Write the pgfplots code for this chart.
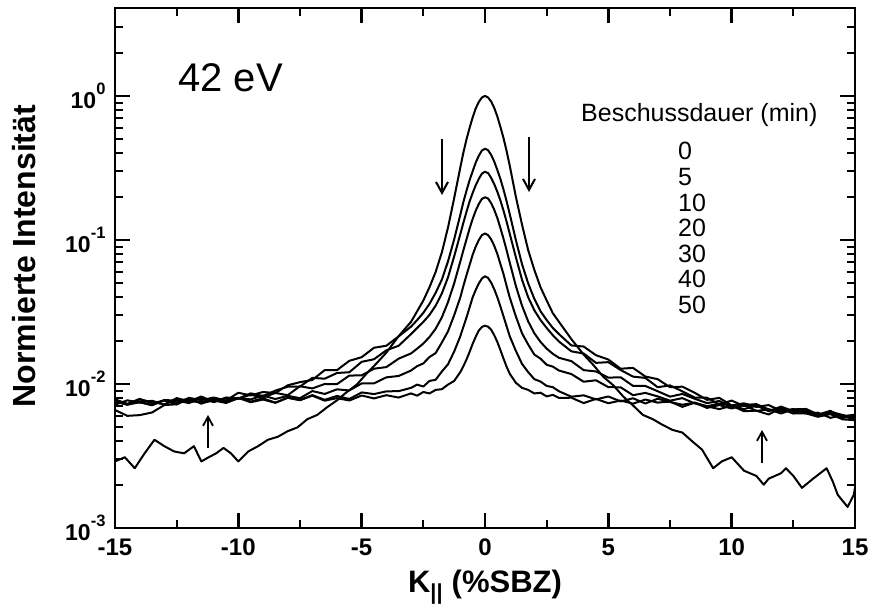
\documentclass[border=0pt]{standalone}
\usepackage{pgfplots}
\pgfplotsset{compat=1.18}
\usepackage{fontspec}
\setmainfont{Liberation Sans}
\usetikzlibrary{arrows.meta}
\newcommand{\expo}[1]{\raisebox{14pt}{\fontsize{16.5}{16.5}\selectfont #1}}
\begin{document}
\begin{tikzpicture}
\pgfplotsset{curve/.style={black, solid, line width=2pt, line join=round, mark=none}}
\begin{axis}[
  at={(0pt,0pt)}, anchor=south west,
  width=740pt, height=520pt, scale only axis,
  xmin=-15, xmax=15, ymode=log, ymin=1e-3, ymax=4.08,
  axis line style={line width=2.8pt},
  xtick={-15,-10,-5,0,5,10,15},
  xticklabels={-15,-10,-5,0,5,10,15},
  minor xtick={-12.5,-7.5,-2.5,2.5,7.5,12.5},
  ytick={1e-3,1e-2,1e-1,1},
  yticklabels={10\expo{-3},10\expo{-2},10\expo{-1},10\expo{0}},
  minor ytick={2e-3,3e-3,4e-3,5e-3,6e-3,7e-3,8e-3,9e-3,2e-2,3e-2,4e-2,5e-2,6e-2,7e-2,8e-2,9e-2,0.2,0.3,0.4,0.5,0.6,0.7,0.8,0.9,2,3},
  tick align=inside,
  major tick length=15pt, minor tick length=8pt,
  every major tick/.style={black, line width=2.4pt},
  every minor tick/.style={black, line width=2pt},
  xticklabel style={font=\fontsize{24}{24}\selectfont\bfseries, yshift=-7pt},
  yticklabel style={font=\fontsize{23}{23}\selectfont\bfseries, xshift=-6pt},
]
% 0 min
\addplot[curve] coordinates {(-15,0.0029)(-14.6,0.0031)(-14.2,0.0026)(-13.8,0.0033)(-13.4,0.0041)(-13,0.0037)(-12.6,0.0034)(-12.2,0.0033)(-11.8,0.0037)(-11.5,0.0029)(-11.2,0.0031)(-10.9,0.0033)(-10.6,0.0036)(-10.3,0.0033)(-10,0.0029)(-9.6,0.0034)(-9.2,0.0037)(-8.8,0.0041)(-8.4,0.0043)(-8,0.0047)(-7.6,0.0050)(-7.2,0.0057)(-6.8,0.0061)(-6.4,0.0069)(-6,0.0077)(-5.6,0.0088)(-5.2,0.0099)(-4.8,0.0118)(-4.4,0.0139)(-4,0.0165)(-3.5,0.0215)(-3,0.027)(-2.75,0.032)(-2.5,0.038)(-2.25,0.047)(-2,0.060)(-1.75,0.082)(-1.5,0.122)(-1.25,0.195)(-1,0.32)(-0.875,0.405)(-0.75,0.50)(-0.625,0.60)(-0.5,0.71)(-0.375,0.82)(-0.25,0.91)(-0.125,0.975)(0,1.0)(0.125,0.975)(0.25,0.915)(0.375,0.825)(0.5,0.72)(0.625,0.61)(0.75,0.51)(0.875,0.415)(1,0.33)(1.25,0.20)(1.5,0.128)(1.75,0.085)(2,0.062)(2.25,0.047)(2.5,0.038)(2.75,0.031)(3,0.027)(3.5,0.0205)(4,0.016)(4.4,0.0135)(4.8,0.0112)(5.2,0.0098)(5.6,0.0082)(6,0.0071)(6.4,0.0061)(6.8,0.0057)(7.2,0.0052)(7.6,0.0048)(8,0.0046)(8.4,0.0040)(8.8,0.0035)(9.25,0.0026)(9.6,0.0029)(10,0.0031)(10.5,0.0025)(11,0.0023)(11.3,0.0020)(11.5,0.0022)(12,0.0024)(12.2,0.0026)(12.5,0.0023)(12.85,0.0019)(13.3,0.0022)(13.85,0.0026)(14.1,0.0021)(14.3,0.0017)(14.7,0.0014)(14.95,0.0017)(15,0.0019)};
% 5 min
\addplot[curve] coordinates {(-15,0.00773)(-14.5,0.00728)(-14,0.00788)(-13.5,0.00735)(-13,0.00768)(-12.5,0.00722)(-12,0.00801)(-11.5,0.00772)(-11,0.00806)(-10.5,0.00768)(-10,0.00869)(-9.5,0.00833)(-9,0.0088)(-8.5,0.00865)(-8,0.00979)(-7.5,0.0103)(-7,0.01067)(-6.5,0.01248)(-6,0.01248)(-5.5,0.01448)(-5,0.01535)(-4.5,0.01785)(-4,0.01843)(-3.5,0.02141)(-3,0.025)(-2.75,0.0278)(-2.5,0.0312)(-2.25,0.036)(-2,0.043)(-1.75,0.053)(-1.5,0.071)(-1.25,0.101)(-1,0.15)(-0.875,0.184)(-0.75,0.22)(-0.625,0.26)(-0.5,0.3)(-0.375,0.345)(-0.25,0.385)(-0.125,0.418)(0,0.43)(0.125,0.42)(0.25,0.39)(0.375,0.35)(0.5,0.306)(0.625,0.265)(0.75,0.224)(0.875,0.186)(1,0.152)(1.25,0.1)(1.5,0.068)(1.75,0.05)(2,0.039)(2.25,0.032)(2.5,0.0278)(2.75,0.0245)(3,0.0222)(3.5,0.01853)(4,0.0182)(4.5,0.01584)(5,0.01479)(5.5,0.01277)(6,0.01293)(6.5,0.01127)(7,0.0108)(7.5,0.0095)(8,0.00958)(8.5,0.00869)(9,0.00776)(9.5,0.00801)(10,0.0071)(10.5,0.00734)(11,0.00693)(11.5,0.00714)(12,0.0065)(12.5,0.00667)(13,0.0067)(13.5,0.00611)(14,0.00651)(14.5,0.00588)(15,0.00596)};
% 10 min
\addplot[curve] coordinates {(-15,0.00784)(-14.5,0.00725)(-14,0.0075)(-13.5,0.00713)(-13,0.00773)(-12.5,0.00768)(-12,0.00737)(-11.5,0.00801)(-11,0.00749)(-10.5,0.00806)(-10,0.00792)(-9.5,0.00861)(-9,0.00825)(-8.5,0.00899)(-8,0.00958)(-7.5,0.0096)(-7,0.01103)(-6.5,0.01088)(-6,0.01192)(-5.5,0.01207)(-5,0.01425)(-4.5,0.01485)(-4,0.01714)(-3.5,0.01843)(-3,0.0222)(-2.75,0.0245)(-2.5,0.027)(-2.25,0.0302)(-2,0.035)(-1.75,0.0425)(-1.5,0.055)(-1.25,0.077)(-1,0.11)(-0.875,0.132)(-0.75,0.157)(-0.625,0.185)(-0.5,0.212)(-0.375,0.24)(-0.25,0.266)(-0.125,0.289)(0,0.298)(0.125,0.291)(0.25,0.27)(0.375,0.244)(0.5,0.216)(0.625,0.188)(0.75,0.16)(0.875,0.134)(1,0.111)(1.25,0.076)(1.5,0.053)(1.75,0.04)(2,0.0325)(2.25,0.0278)(2.5,0.0245)(2.75,0.0218)(3,0.0197)(3.5,0.01686)(4,0.01627)(4.5,0.01402)(5,0.01418)(5.5,0.0125)(6,0.01125)(6.5,0.01102)(7,0.0095)(7.5,0.00978)(8,0.00889)(8.5,0.00805)(9,0.00803)(9.5,0.0072)(10,0.00767)(10.5,0.00703)(11,0.00714)(11.5,0.00646)(12,0.00697)(12.5,0.00647)(13,0.00657)(13.5,0.00611)(14,0.00639)(14.5,0.0061)(15,0.00576)};
% 20 min
\addplot[curve] coordinates {(-15,0.00755)(-14.5,0.00718)(-14,0.0078)(-13.5,0.0075)(-13,0.00722)(-12.5,0.00783)(-12,0.00755)(-11.5,0.00819)(-11,0.00749)(-10.5,0.00798)(-10,0.00792)(-9.5,0.00842)(-9,0.00805)(-8.5,0.00867)(-8,0.00836)(-7.5,0.00965)(-7,0.00931)(-6.5,0.01)(-6,0.00998)(-5.5,0.01144)(-5,0.01148)(-4.5,0.01277)(-4,0.0131)(-3.5,0.015)(-3,0.0163)(-2.75,0.0176)(-2.5,0.0191)(-2.25,0.0212)(-2,0.0242)(-1.75,0.029)(-1.5,0.037)(-1.25,0.05)(-1,0.071)(-0.875,0.085)(-0.75,0.101)(-0.625,0.12)(-0.5,0.14)(-0.375,0.16)(-0.25,0.178)(-0.125,0.193)(0,0.198)(0.125,0.194)(0.25,0.18)(0.375,0.162)(0.5,0.142)(0.625,0.121)(0.75,0.102)(0.875,0.085)(1,0.07)(1.25,0.048)(1.5,0.035)(1.75,0.0272)(2,0.0225)(2.25,0.0196)(2.5,0.0176)(2.75,0.0162)(3,0.0152)(3.5,0.01442)(4,0.01248)(4.5,0.01222)(5,0.01107)(5.5,0.01113)(6,0.0097)(6.5,0.00969)(7,0.00891)(7.5,0.00817)(8,0.00853)(8.5,0.0079)(9,0.00737)(9.5,0.00762)(10,0.00691)(10.5,0.00714)(11,0.00725)(11.5,0.00666)(12,0.00643)(12.5,0.0067)(13,0.0064)(13.5,0.00611)(14,0.00645)(14.5,0.00598)(15,0.00612)};
% 30 min
\addplot[curve] coordinates {(-15,0.00718)(-14.5,0.0077)(-14,0.00743)(-13.5,0.00765)(-13,0.0072)(-12.5,0.00798)(-12,0.0076)(-11.5,0.00747)(-11,0.00793)(-10.5,0.00741)(-10,0.00796)(-9.5,0.00782)(-9,0.00832)(-8.5,0.00786)(-8,0.00828)(-7.5,0.00797)(-7,0.00893)(-6.5,0.00853)(-6,0.00918)(-5.5,0.00902)(-5,0.01009)(-4.5,0.0101)(-4,0.01112)(-3.5,0.01137)(-3,0.0124)(-2.75,0.0133)(-2.5,0.0139)(-2.25,0.0154)(-2,0.0164)(-1.75,0.0194)(-1.5,0.0232)(-1.25,0.03)(-1,0.04)(-0.875,0.048)(-0.75,0.057)(-0.625,0.067)(-0.5,0.079)(-0.375,0.09)(-0.25,0.1)(-0.125,0.108)(0,0.111)(0.125,0.108)(0.25,0.101)(0.375,0.091)(0.5,0.08)(0.625,0.068)(0.75,0.058)(0.875,0.048)(1,0.04)(1.25,0.0295)(1.5,0.0225)(1.75,0.0188)(2,0.016)(2.25,0.015)(2.5,0.0136)(2.75,0.0132)(3,0.0124)(3.5,0.01172)(4,0.01037)(4.5,0.01061)(5,0.00951)(5.5,0.00948)(6,0.00836)(6.5,0.00867)(7,0.0082)(7.5,0.00766)(8,0.00798)(8.5,0.00733)(9,0.00701)(9.5,0.00731)(10,0.00707)(10.5,0.00669)(11,0.00707)(11.5,0.00657)(12,0.00673)(12.5,0.00624)(13,0.00672)(13.5,0.00614)(14,0.00622)(14.5,0.00582)(15,0.00597)};
% 40 min
\addplot[curve] coordinates {(-15,0.00759)(-14.5,0.00718)(-14,0.00747)(-13.5,0.00713)(-13,0.00773)(-12.5,0.00745)(-12,0.00798)(-11.5,0.0073)(-11,0.00785)(-10.5,0.00762)(-10,0.00801)(-9.5,0.00747)(-9,0.0078)(-8.5,0.00741)(-8,0.00803)(-7.5,0.00774)(-7,0.00837)(-6.5,0.00776)(-6,0.00826)(-5.5,0.00787)(-5,0.00874)(-4.5,0.00851)(-4,0.00889)(-3.5,0.00892)(-3,0.0094)(-2.75,0.0099)(-2.5,0.0096)(-2.25,0.0105)(-2,0.0107)(-1.75,0.0122)(-1.5,0.0137)(-1.25,0.0168)(-1,0.0215)(-0.875,0.025)(-0.75,0.029)(-0.625,0.034)(-0.5,0.04)(-0.375,0.045)(-0.25,0.05)(-0.125,0.054)(0,0.056)(0.125,0.0545)(0.25,0.0505)(0.375,0.0455)(0.5,0.04)(0.625,0.0345)(0.75,0.0295)(0.875,0.0252)(1,0.0215)(1.25,0.017)(1.5,0.0138)(1.75,0.0121)(2,0.0108)(2.25,0.0104)(2.5,0.0097)(2.75,0.0095)(3,0.0089)(3.5,0.00816)(4,0.00834)(4.5,0.00782)(5,0.00819)(5.5,0.00757)(6,0.00796)(6.5,0.00732)(7,0.0079)(7.5,0.0075)(8,0.00718)(8.5,0.00742)(9,0.00682)(9.5,0.00714)(10,0.00676)(10.5,0.00714)(11,0.0065)(11.5,0.00667)(12,0.00624)(12.5,0.00666)(13,0.00624)(13.5,0.00632)(14,0.00582)(14.5,0.00608)(15,0.00559)};
% 50 min
\addplot[curve] coordinates {(-15,0.0066)(-14.5,0.00601)(-14,0.00608)(-13.5,0.00634)(-13,0.00714)(-12.5,0.00723)(-12,0.00788)(-11.5,0.00737)(-11,0.00768)(-10.5,0.00739)(-10,0.00801)(-9.5,0.00755)(-9,0.00796)(-8.5,0.00741)(-8,0.00803)(-7.5,0.00772)(-7,0.0083)(-6.5,0.00766)(-6,0.00798)(-5.5,0.00768)(-5,0.00832)(-4.5,0.00794)(-4,0.00836)(-3.5,0.00805)(-3,0.0086)(-2.75,0.0083)(-2.5,0.0088)(-2.25,0.0086)(-2,0.0091)(-1.75,0.0092)(-1.5,0.0099)(-1.25,0.0105)(-1,0.0121)(-0.875,0.0133)(-0.75,0.0148)(-0.625,0.0167)(-0.5,0.019)(-0.375,0.0213)(-0.25,0.0235)(-0.125,0.0249)(0,0.0254)(0.125,0.025)(0.25,0.0238)(0.375,0.0218)(0.5,0.0196)(0.625,0.0172)(0.75,0.015)(0.875,0.0132)(1,0.0118)(1.25,0.0102)(1.5,0.0094)(1.75,0.0091)(2,0.0086)(2.25,0.0087)(2.5,0.0082)(2.75,0.0084)(3,0.008)(3.5,0.00803)(4,0.00737)(4.5,0.00788)(5,0.00735)(5.5,0.00768)(6,0.0073)(6.5,0.0078)(7,0.00743)(7.5,0.00755)(8,0.00694)(8.5,0.00742)(9,0.007)(9.5,0.00669)(10,0.00707)(10.5,0.00647)(11,0.00653)(11.5,0.00614)(12,0.00683)(12.5,0.00624)(13,0.00626)(13.5,0.00592)(14,0.00618)(14.5,0.00568)(15,0.00561)};
\end{axis}
% annotations (pt = px of the reference, origin at lower-left axis corner)
\draw[line width=2pt, -{Straight Barb[length=11pt,width=12pt]}] (327pt,389pt) -- (327pt,333pt);
\draw[line width=2pt, -{Straight Barb[length=11pt,width=12pt]}] (414pt,391pt) -- (414pt,336pt);
\draw[line width=1.8pt, -{Straight Barb[length=9pt,width=10pt]}] (93pt,80pt) -- (93pt,113pt);
\draw[line width=1.8pt, -{Straight Barb[length=9pt,width=10pt]}] (647pt,65pt) -- (647pt,98pt);
\node[anchor=base west, inner sep=0pt, font=\fontsize{40}{40}\selectfont] at (63pt,436pt) {42 eV};
\node[anchor=base west, inner sep=0pt, font=\fontsize{25}{25}\selectfont] at (466pt,406pt) {Beschussdauer (min)};
\foreach \t/\y in {0/368,5/342,10/316,20/291,30/265,40/240,50/214}
  \node[anchor=base west, inner sep=0pt, font=\fontsize{25}{25}\selectfont] at (563pt,\y pt) {\t};
\node[anchor=base, inner sep=0pt, font=\fontsize{31}{31}\selectfont\bfseries] at (370pt,-64pt) {K\textsubscript{||} (\%SBZ)};
\node[anchor=base, rotate=90, inner sep=0pt, font=\fontsize{32}{32}\selectfont\bfseries] at (-79pt,272pt) {Normierte Intensität};
\pgfresetboundingbox
\useasboundingbox (-115pt,-80pt) rectangle (757pt,528pt);
\end{tikzpicture}
\end{document}
